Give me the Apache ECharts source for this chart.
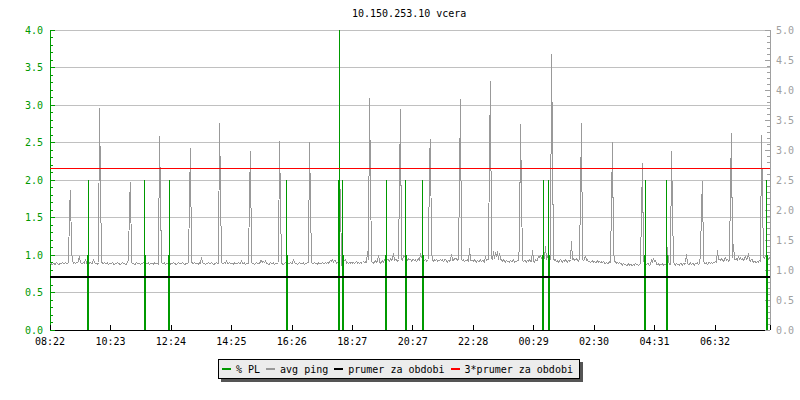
<!DOCTYPE html>
<html>
<head>
<meta charset="utf-8">
<script src="https://cdn.jsdelivr.net/npm/echarts@6/dist/echarts.min.js"></script>
<style>
html,body{margin:0;padding:0;background:#fff;}
#chart{width:800px;height:400px;}
#chart svg path, #chart svg rect, #chart svg line{shape-rendering:crispEdges;}
</style>
</head>
<body>
<div id="chart"></div>
<script>
// ---- data ----
const chartTitle = '10.150.253.10 vcera';
const xTickLabels = ['08:22','10:23','12:24','14:25','16:26','18:27','20:27','22:28','00:29','02:30','04:31','06:32'];
const xTickStepMin = 120.9;      // minutes between time labels
const periodMinutes = 1440;      // 24 h shown
const sampleMinutes = 2;         // one sample every 2 minutes
const seriesNames = ['% PL', 'avg ping', 'prumer za obdobi', '3*prumer za obdobi'];

// avg ping, one value per sample (720 samples)
const pingAvg = [
0.89,0.88,0.87,0.89,0.88,0.88,0.90,0.89,0.87,0.88,0.89,
0.88,0.90,0.89,0.88,0.90,0.89,0.88,0.90,1.59,1.87,
1.05,0.92,0.89,0.90,0.88,0.91,0.89,0.93,0.98,0.90,
0.89,0.88,0.90,0.89,0.94,0.89,0.88,0.90,0.89,0.91,
0.88,0.89,0.95,0.90,0.88,0.89,0.87,0.90,2.96,1.98,
0.91,0.89,0.88,0.90,0.89,0.88,0.90,0.87,0.89,0.88,
0.89,0.90,0.88,0.87,0.89,0.88,0.90,0.89,0.88,0.87,
0.89,0.90,0.88,0.89,0.87,0.88,0.90,0.93,1.71,1.97,
0.90,0.88,0.89,0.87,0.88,0.90,0.89,0.88,0.89,0.87,
0.89,0.88,0.90,0.89,0.91,0.88,0.89,0.90,0.87,0.89,
0.88,0.89,0.87,0.90,0.89,0.88,0.89,0.87,2.58,1.78,
0.90,0.89,0.88,0.90,0.87,0.89,0.88,0.89,0.87,0.88,
0.89,0.88,0.90,0.89,0.88,0.87,0.89,0.90,0.88,0.89,
0.88,0.90,0.89,0.87,0.88,0.89,0.88,0.90,1.77,2.42,
0.91,0.89,0.88,0.90,0.89,0.88,0.89,0.87,0.90,0.89,
0.97,0.90,0.88,0.89,0.87,0.89,0.88,0.90,0.89,0.88,
0.90,0.89,0.87,0.88,0.89,0.90,0.88,0.89,2.76,1.91,
0.90,0.89,0.88,0.90,0.89,0.93,0.89,0.88,0.90,0.89,
0.88,0.89,0.87,0.90,0.88,0.89,0.88,0.90,0.89,0.88,
0.93,0.89,0.88,0.90,0.87,0.89,0.88,0.89,1.81,2.38,
0.90,0.88,0.89,0.87,0.89,0.90,0.88,0.89,0.88,0.92,
0.93,0.90,0.92,0.89,0.93,0.88,0.89,0.87,0.88,0.90,
0.89,0.88,0.90,0.87,0.89,0.88,0.89,0.90,2.52,1.71,
0.89,0.88,0.87,0.89,0.90,0.88,0.86,0.89,0.88,0.90,
0.88,0.89,0.95,0.90,0.88,0.89,0.87,0.89,0.90,0.88,
0.89,0.88,0.90,0.87,0.89,0.88,0.90,0.89,2.50,1.70,
0.90,0.88,0.89,0.90,0.88,0.89,0.87,0.90,0.89,0.88,
0.89,0.90,0.88,0.89,0.90,0.88,0.91,0.89,0.90,0.93,
0.91,0.94,0.90,0.93,0.92,0.89,0.90,0.91,2.00,1.77,
0.85,0.86,0.95,0.92,0.95,0.89,0.90,0.88,0.91,0.89,
0.90,0.89,0.91,0.88,0.90,0.92,0.89,0.90,0.88,0.91,
0.89,0.90,0.92,0.89,0.91,0.90,1.05,0.93,3.09,2.03,
0.92,0.90,0.89,0.91,0.93,0.90,0.92,1.00,0.91,0.89,
0.91,0.93,0.90,0.94,0.96,0.92,0.95,0.93,0.91,0.96,
0.93,0.94,1.02,0.92,0.95,0.93,0.91,0.94,1.98,2.94,
0.95,0.92,1.00,0.97,1.01,0.94,0.92,0.96,0.93,0.95,
0.91,0.93,0.95,0.92,0.94,0.91,0.93,0.96,0.92,1.02,
0.96,1.00,0.94,0.92,0.95,0.91,0.93,0.94,2.29,2.55,
1.04,0.93,0.91,0.94,0.92,0.95,0.91,0.93,0.92,0.94,
0.92,0.94,0.91,0.93,0.95,0.92,0.90,0.93,0.91,0.94,
1.01,0.93,0.92,0.96,0.95,0.96,0.92,0.94,2.03,3.08,
0.95,0.92,0.94,0.91,0.93,0.92,0.94,0.91,1.09,0.93,
0.92,0.93,0.91,0.94,0.92,0.90,0.93,0.91,0.92,0.94,
0.91,0.93,0.92,0.90,0.98,0.92,0.94,0.93,2.41,3.32,
0.96,0.93,1.05,0.95,1.04,0.97,1.05,0.94,1.03,0.95,
0.93,0.91,0.94,0.92,0.90,0.93,0.91,0.92,0.90,0.93,
0.91,0.92,0.94,0.90,0.92,0.91,0.93,0.92,1.15,2.74,
1.83,0.94,0.91,0.93,0.92,0.90,0.93,0.91,0.94,0.92,
0.91,1.07,0.93,0.90,0.94,0.92,0.93,0.99,0.96,1.00,
0.95,0.97,0.93,0.96,1.12,0.94,1.00,0.92,0.95,0.93,
3.68,2.42,0.96,0.92,0.94,0.91,0.93,0.90,0.92,0.94,
0.92,0.90,0.93,0.91,0.94,0.92,0.90,0.93,0.91,0.94,
1.19,0.93,0.96,0.92,0.94,0.95,0.93,0.91,0.95,1.83,
2.76,0.94,0.92,0.95,0.99,0.93,0.94,0.91,0.92,0.90,
0.91,0.93,0.90,0.92,0.89,0.91,0.93,0.90,0.92,0.89,
0.91,0.90,0.92,0.89,0.88,0.90,0.88,0.89,0.91,0.90,
1.70,2.50,1.05,0.93,0.90,0.89,0.91,0.88,0.90,0.89,
0.88,0.86,0.89,0.87,0.88,0.85,0.87,0.89,0.86,0.88,
0.87,0.85,0.88,0.86,0.89,0.87,0.88,0.86,0.87,0.89,
1.57,2.22,0.93,0.88,0.90,0.87,0.89,0.88,0.86,0.88,
0.94,0.90,0.96,0.91,0.93,0.88,0.87,0.89,0.86,0.88,
0.87,0.89,0.86,0.88,0.87,0.89,1.11,0.90,0.88,0.87,
2.39,1.63,0.91,0.88,0.86,0.89,0.87,0.88,0.86,0.89,
0.88,0.86,0.89,0.87,0.90,1.01,0.89,0.87,0.88,0.90,
0.87,0.89,0.88,0.86,0.89,0.88,0.90,0.87,0.89,0.99,
1.63,1.99,0.92,0.89,0.88,0.90,0.87,0.89,0.91,0.88,
0.90,0.88,0.91,0.89,0.92,0.90,1.06,0.93,0.95,0.92,
0.96,0.93,0.91,0.94,0.97,0.92,0.95,0.91,0.93,1.95,
2.62,0.96,1.14,0.95,0.93,0.96,0.92,0.99,0.94,0.97,
0.93,0.96,0.92,0.95,0.98,0.93,0.96,1.02,0.94,0.91,
0.95,0.93,0.90,0.92,0.91,0.89,0.92,0.90,0.93,0.91,
2.60,1.77,0.97,0.95,1.00,0.96,0.98,0.94,0.97
];

// packet loss events: [sample index, % PL]; all other samples are 0
const plEvents = [
[37,1],[38,2],[94,2],[95,1],[118,1],[119,2],[236,2],[237,1],
[288,2],[289,4],[292,2],[293,1],[335,1],[336,2],[355,2],[356,1],
[372,2],[373,1],[492,1],[493,2],[498,2],[499,1],[594,1],[595,2],
[616,2],[617,1],[716,2],[717,1]
];

const meanValue = 0.71;       // prumer za obdobi
const mean3Value = 2.16;      // 3*prumer za obdobi

const leftAxisMax = 4;
const rightAxisMax = 5;
const axisStep = 0.5;

// ---- build ----
const pingData = pingAvg.map((v, i) => [i * sampleMinutes + sampleMinutes / 2, v]);
const plData = plEvents.map(([i, v]) => [i * sampleMinutes + sampleMinutes / 2, v]);

const FONT = 'DejaVu Sans Mono';
const GREEN = '#009900', GRAY = '#999999', RED = '#ff0000', BLACK = '#000000';

const chart = echarts.init(document.getElementById('chart'), null, {renderer: 'svg'});
chart.setOption({
  animation: false,
  backgroundColor: '#ffffff',
  title: {
    text: chartTitle, left: 352, top: 8, padding: 0,
    textStyle: {fontFamily: FONT, fontSize: 10, fontWeight: 'normal', color: '#000'}
  },
  legend: {
    data: seriesNames,
    left: 218, top: 359,
    padding: [5, 7, 4, 4],
    itemGap: 6, itemWidth: 9, itemHeight: 2, icon: 'rect',
    backgroundColor: '#ececec', borderColor: '#000', borderWidth: 1,
    shadowColor: '#555', shadowBlur: 0, shadowOffsetX: 3, shadowOffsetY: 3,
    textStyle: {fontFamily: FONT, fontSize: 10, color: '#000'},
    selectedMode: false
  },
  grid: {left: 50, right: 30, top: 30, bottom: 70, containLabel: false},
  xAxis: {
    type: 'value', min: 0, max: periodMinutes, interval: xTickStepMin,
    axisLine: {show: true, onZero: false, lineStyle: {color: BLACK, width: 1}},
    axisTick: {show: true, inside: true, length: 5, lineStyle: {color: BLACK}},
    splitLine: {show: false},
    axisLabel: {
      margin: 6, color: '#000', fontFamily: FONT, fontSize: 10,
      formatter: function (v) {
        const k = Math.round(v / xTickStepMin);
        return Math.abs(k * xTickStepMin - v) < 0.01 && xTickLabels[k] ? xTickLabels[k] : '';
      }
    }
  },
  yAxis: [{
    type: 'value', position: 'left', min: 0, max: leftAxisMax, interval: axisStep,
    axisLine: {show: true, onZero: false, lineStyle: {color: GREEN}},
    axisTick: {show: true, inside: true, length: 5, lineStyle: {color: GREEN}},
    minorTick: {show: true, splitNumber: 5, length: 3, lineStyle: {color: GREEN}},
    splitLine: {show: true, lineStyle: {color: '#c0c0c0', width: 1}},
    axisLabel: {margin: 7, color: GREEN, fontFamily: FONT, fontSize: 10,
      formatter: v => v.toFixed(1)}
  }, {
    type: 'value', position: 'right', min: 0, max: rightAxisMax, interval: axisStep,
    axisLine: {show: true, onZero: false, lineStyle: {color: '#a0a0a0'}},
    axisTick: {show: true, inside: true, length: 5, lineStyle: {color: '#a0a0a0'}},
    minorTick: {show: true, splitNumber: 5, length: 3, lineStyle: {color: '#a0a0a0'}},
    splitLine: {show: false},
    axisLabel: {margin: 6, color: '#a0a0a0', fontFamily: FONT, fontSize: 10,
      formatter: v => v.toFixed(1)}
  }],
  series: [{
    name: seriesNames[1], type: 'line', yAxisIndex: 0, data: pingData,
    color: GRAY, showSymbol: false, symbol: 'none',
    lineStyle: {color: GRAY, width: 1}, z: 2
  }, {
    name: seriesNames[0], type: 'bar', yAxisIndex: 0, data: plData,
    color: GREEN, barWidth: 1, itemStyle: {color: GREEN, borderWidth: 0}, z: 3
  }, {
    name: seriesNames[2], type: 'line', yAxisIndex: 0, data: [],
    color: BLACK, symbol: 'none', z: 4,
    markLine: {silent: true, symbol: 'none', label: {show: false},
      lineStyle: {color: BLACK, width: 2, type: 'solid'},
      data: [{yAxis: meanValue}]}
  }, {
    name: seriesNames[3], type: 'line', yAxisIndex: 0, data: [],
    color: RED, symbol: 'none', z: 5,
    markLine: {silent: true, symbol: 'none', label: {show: false},
      lineStyle: {color: RED, width: 1, type: 'solid'},
      data: [{yAxis: mean3Value}]}
  }]
});
</script>
</body>
</html>
